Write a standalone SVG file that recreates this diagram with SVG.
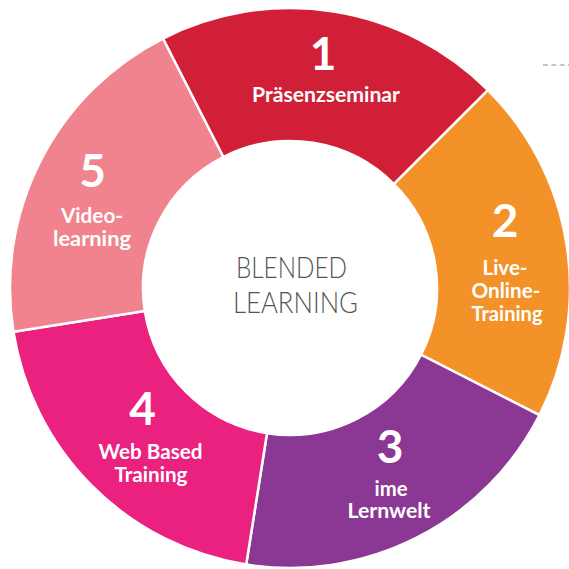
<svg xmlns="http://www.w3.org/2000/svg" width="569" height="569" viewBox="0 0 569 569">
<style>
.seg{stroke:#fff;stroke-width:2.5;stroke-linejoin:miter}
.num{font-family:Lato,"Open Sans","DejaVu Sans",sans-serif;font-weight:700;font-size:46px;fill:#fff;text-anchor:middle}
.lbl{font-family:Lato,"Open Sans","DejaVu Sans",sans-serif;font-weight:700;font-size:20px;fill:#fff;text-anchor:middle}
.ctr{font-family:Lato,"Open Sans","DejaVu Sans",sans-serif;font-weight:300;font-size:29px;fill:#545454;text-anchor:middle}
</style>
<rect width="569" height="569" fill="#fff"/>
<g id="connectors">
<line x1="543" y1="65" x2="569" y2="65" stroke="#8a8a8a" stroke-width="1.2" stroke-dasharray="5,3.3"/>
</g>
<g id="node1">
<path class="seg" fill="#d01f37" d="M162.88,38.52 A280,280 0 0 1 487.99,90.01 L393.94,184.06 A147,147 0 0 0 223.26,157.02 Z"/>
<text class="num" x="323" y="70">1</text>
<text class="lbl" x="326" y="102.3" textLength="148" lengthAdjust="spacingAndGlyphs">Präsenzseminar</text>
</g>
<g id="node2">
<path class="seg" fill="#f39229" d="M487.99,90.01 A280,280 0 0 1 539.48,415.12 L420.98,354.74 A147,147 0 0 0 393.94,184.06 Z"/>
<text class="num" x="505" y="236.7">2</text>
<text class="lbl" x="505" y="275" textLength="45" lengthAdjust="spacingAndGlyphs">Live-</text>
<text class="lbl" x="506" y="298.3" textLength="69" lengthAdjust="spacingAndGlyphs">Online-</text>
<text class="lbl" x="507" y="321" textLength="71" lengthAdjust="spacingAndGlyphs">Training</text>
</g>
<g id="node3">
<path class="seg" fill="#8b3894" d="M539.48,415.12 A280,280 0 0 1 246.2,564.55 L267,433.19 A147,147 0 0 0 420.98,354.74 Z"/>
<text class="num" x="390" y="463.3">3</text>
<text class="lbl" x="391" y="495.7" textLength="33" lengthAdjust="spacingAndGlyphs">ime</text>
<text class="lbl" x="389" y="518.3" textLength="83" lengthAdjust="spacingAndGlyphs">Lernwelt</text>
</g>
<g id="node4">
<path class="seg" fill="#eb2180" d="M246.2,564.55 A280,280 0 0 1 13.45,331.8 L144.81,311 A147,147 0 0 0 267,433.19 Z"/>
<text class="num" x="142.5" y="425">4</text>
<text class="lbl" x="150.5" y="459.3" textLength="104" lengthAdjust="spacingAndGlyphs">Web Based</text>
<text class="lbl" x="151" y="481.7" textLength="73" lengthAdjust="spacingAndGlyphs">Training</text>
</g>
<g id="node5">
<path class="seg" fill="#f0838d" d="M13.45,331.8 A280,280 0 0 1 162.88,38.52 L223.26,157.02 A147,147 0 0 0 144.81,311 Z"/>
<text class="num" x="92.5" y="186.7">5</text>
<text class="lbl" x="92" y="223.3" textLength="62" lengthAdjust="spacingAndGlyphs">Video-</text>
<text class="lbl" x="92" y="246" textLength="78" lengthAdjust="spacingAndGlyphs">learning</text>
</g>
<g id="center">
<text class="ctr" x="291.5" y="278" textLength="111" lengthAdjust="spacingAndGlyphs">BLENDED</text>
<text class="ctr" x="295.5" y="313" textLength="125" lengthAdjust="spacingAndGlyphs">LEARNING</text>
</g>
</svg>
